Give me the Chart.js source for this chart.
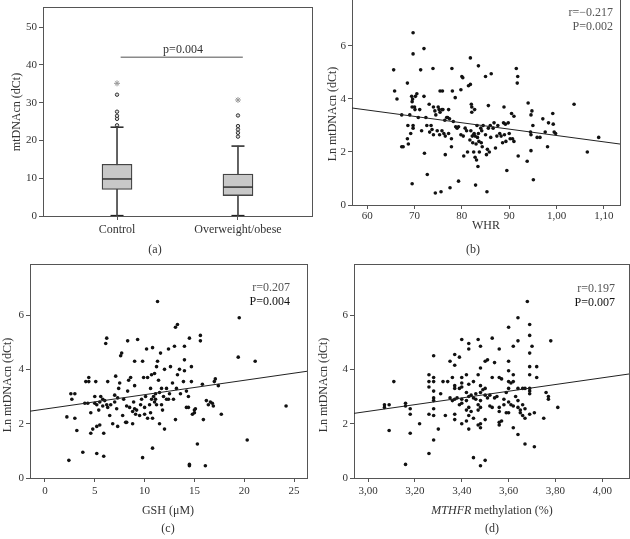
<!DOCTYPE html>
<html>
<head>
<meta charset="utf-8">
<script src="https://cdn.jsdelivr.net/npm/chart.js@4.4.0/dist/chart.umd.min.js"></script>
<style>
    body { margin: 0; background: #fff; width: 630px; height: 539px; overflow: hidden; position: relative; font-family: "Liberation Serif", serif; }
    canvas { position: absolute; }
    .cap { position: absolute; font-size: 12px; color: #333; transform: translate(-50%, -50%); white-space: nowrap; }
</style>
</head>
<body>
<canvas id="chartA" width="315" height="265" style="left:0;top:0"></canvas>
<canvas id="chartB" width="315" height="267" style="left:315px;top:-2px"></canvas>
<canvas id="chartC" width="315" height="277" style="left:0;top:262px"></canvas>
<canvas id="chartD" width="315" height="277" style="left:315px;top:262px"></canvas>
<div class="cap" style="left:155px;top:249px">(a)</div>
<div class="cap" style="left:473px;top:249px">(b)</div>
<div class="cap" style="left:168px;top:528px">(c)</div>
<div class="cap" style="left:492px;top:528px">(d)</div>

<script>
// (a) box plot
const groups = ['Control', 'Overweight/obese'];
const boxQ1 = [7.05, 5.4];
const boxMedian = [9.8, 7.65];
const boxQ3 = [13.7, 11.1];
const whiskerLow = [0.1, 0.1];
const whiskerHigh = [23.5, 18.5];
const outliers = [[24.0, 25.7, 26.5, 27.6, 32.1], [21.0, 22.0, 22.9, 23.8, 26.6]];
const extremes = [[35.1], [30.7]];
const bracketX = [0.03, 1.04];
const bracketY = 42;
const boxTicksY = [0, 10, 20, 30, 40, 50];

// (b) WHR vs Ln mtDNAcn
const whrPoints = [
    [65.6,5.1],[65.8,4.3],[66.3,4.0],[67.3,3.4],[67.3,2.2],[67.6,2.2],[68.5,4.6],[68.6,3.0],[68.5,2.5],[68.7,2.3],
    [69.0,3.4],[69.2,2.7],[69.4,4.1],[69.5,3.7],[69.5,3.9],[69.6,4.0],[69.7,2.9],[69.7,3.0],[69.5,0.8],[69.7,6.5],
    [69.7,5.7],[70.1,3.6],[70.0,3.7],[70.2,4.1],[70.5,4.2],[70.8,3.3],[71.1,3.6],[71.3,5.1],[71.5,2.8],[72.0,5.9],
    [72.0,4.1],[72.1,1.95],[72.4,3.3],[72.6,3.0],[72.7,1.15],[73.2,2.75],[73.1,3.8],[73.5,3.0],[73.7,2.85],[74.0,3.7],
    [73.9,5.15],[74.0,2.65],[74.3,3.55],[74.5,3.4],[74.4,0.45],[74.8,2.8],[75.0,3.7],[75.3,2.65],[75.2,3.6],[75.4,4.3],
    [75.4,3.5],[75.8,2.8],[75.9,4.3],[75.8,3.6],[75.6,0.5],[76.0,3.6],[76.4,3.2],[76.2,2.7],[76.5,2.6],[76.5,1.9],
    [76.8,3.3],[77.0,3.3],[77.2,3.6],[77.4,3.25],[77.2,2.7],[77.5,0.65],[77.8,2.5],[77.8,2.2],[77.9,5.15],[78.0,4.3],
    [78.2,3.15],[78.6,4.05],[78.7,2.95],[79.0,2.9],[79.3,0.9],[79.3,2.95],[79.8,4.35],[79.8,2.65],[80.0,4.85],[80.2,4.8],
    [80.3,2.6],[80.4,1.85],[80.7,2.9],[81.0,2.8],[81.2,2.0],[81.4,4.5],[81.7,2.45],[81.8,4.55],[81.8,5.55],[81.9,2.8],
    [82.0,3.8],[82.1,3.5],[82.1,3.7],[82.2,2.6],[82.3,2.35],[82.5,2.65],[82.5,2.0],[82.6,2.7],[82.7,3.6],[82.8,1.8],
    [82.8,2.6],[82.9,0.75],[83.0,2.3],[83.1,1.7],[83.2,3.0],[83.3,2.55],[83.4,1.45],[83.5,2.7],[83.5,5.25],[83.6,2.4],
    [83.7,2.0],[84.0,2.9],[84.1,2.35],[84.2,2.8],[84.3,2.2],[84.5,3.0],[85.0,4.85],[85.0,2.65],[85.2,1.9],[85.4,2.1],
    [85.3,0.5],[85.6,2.9],[85.6,3.75],[85.8,2.0],[86.0,3.0],[86.1,2.55],[86.2,4.95],[86.6,2.9],[86.8,3.1],[87.1,2.15],
    [87.4,2.6],[87.6,3.0],[88.0,2.7],[88.3,2.6],[88.6,2.35],[88.8,3.1],[88.9,3.7],[89.0,2.65],[89.2,3.05],[89.3,2.4],
    [89.5,1.3],[89.8,3.1],[90.0,2.7],[90.2,2.5],[90.5,3.45],[90.7,2.5],[91.0,3.35],[91.0,2.4],[91.5,5.15],[91.7,4.6],
    [91.8,4.85],[91.9,1.85],[93.8,1.65],[94.0,3.85],[94.6,3.4],[94.5,2.75],[94.6,2.65],[94.6,2.05],[94.8,3.55],[95.0,3.0],
    [95.1,0.95],[95.9,2.55],[96.5,2.55],[97.1,3.25],[97.6,2.75],[98.1,2.2],[98.3,3.1],[99.2,3.45],[99.3,3.05],[99.5,2.75],
    [99.8,2.7],[103.7,3.8],[106.5,2.0],[108.9,2.55]
];
const whrFitX = [56.8, 113.4];
const whrFitY = [3.66, 2.30];
const whrTicks = [60, 70, 80, 90, 100, 110];
const whrTickLabels = ['60', '70', '80', '90', '1,00', '1,10'];

// (c) GSH vs Ln mtDNAcn
const gshPoints = [
    [2.2,2.25],[2.4,0.65],[2.6,3.1],[2.7,2.9],[3.0,3.1],[3.0,2.2],[3.2,1.75],[3.8,0.95],[4.0,2.75],[4.1,3.55],
    [4.3,2.75],[4.4,3.55],[4.4,3.7],[4.6,1.65],[4.6,2.4],[4.8,1.8],[5.0,2.75],[5.0,3.0],[5.1,3.55],[5.2,1.9],
    [5.2,0.9],[5.4,2.5],[5.5,2.8],[5.5,1.95],[5.6,3.0],[5.8,2.65],[5.8,2.9],[5.9,1.65],[5.9,0.8],[6.1,4.95],
    [6.2,5.15],[6.2,2.7],[6.3,2.6],[6.3,3.55],[6.5,2.3],[6.6,2.7],[6.8,2.0],[7.0,3.05],[7.0,2.8],[7.1,3.75],
    [7.2,2.55],[7.3,1.9],[7.3,2.95],[7.4,3.3],[7.5,3.5],[7.6,4.5],[7.7,4.6],[7.8,2.3],[7.9,2.9],[8.1,2.05],
    [8.2,2.05],[8.2,2.65],[8.3,3.2],[8.3,5.05],[8.4,3.6],[8.5,2.6],[8.6,3.7],[8.8,2.45],[8.8,2.0],[8.9,2.8],
    [9.0,4.3],[9.0,3.4],[9.1,2.35],[9.2,2.5],[9.3,5.1],[9.5,2.3],[9.6,2.7],[9.7,2.9],[9.8,4.3],[9.8,0.75],
    [9.9,3.7],[10.0,2.35],[10.0,2.6],[10.1,3.0],[10.2,4.75],[10.3,2.2],[10.3,3.7],[10.5,2.7],[10.6,3.3],[10.7,3.8],
    [10.7,2.9],[10.8,4.8],[10.8,2.2],[10.8,1.1],[10.9,3.0],[11.0,2.8],[11.0,3.85],[11.1,2.9],[11.1,3.1],[11.2,4.1],
    [11.2,2.7],[11.3,6.5],[11.3,4.3],[11.4,3.6],[11.5,2.0],[11.6,4.6],[11.7,2.7],[11.7,3.3],[11.8,2.5],[11.9,3.0],
    [12.0,1.8],[12.0,4.0],[12.2,3.3],[12.4,4.75],[12.4,2.9],[12.5,3.1],[12.6,4.1],[12.8,3.5],[12.9,2.9],[13.0,4.85],
    [13.1,5.55],[13.1,2.15],[13.2,3.3],[13.3,5.65],[13.3,3.8],[13.5,4.0],[13.6,3.1],[13.9,3.55],[14.0,4.35],[14.0,3.95],
    [14.0,4.85],[14.2,2.6],[14.2,3.2],[14.4,3.0],[14.4,2.6],[14.5,0.45],[14.5,0.5],[14.5,5.15],[14.7,4.1],[14.7,3.55],
    [14.8,2.35],[15.0,2.5],[15.0,2.4],[15.1,2.55],[15.3,1.25],[15.6,5.25],[15.6,5.05],[15.8,3.45],[15.9,2.15],[16.1,0.45],
    [16.2,2.85],[16.4,2.7],[16.6,2.8],[16.8,2.75],[16.9,2.65],[17.0,3.55],[17.1,3.65],[17.4,3.4],[17.7,2.35],[19.4,4.45],
    [19.5,5.9],[20.3,1.4],[21.1,4.3],[24.2,2.65],[9.0,2.55],[10.6,2.4],[12.2,2.9],[11.5,3.15],[6.0,2.85],[5.2,2.7]
];
const gshFitX = [-1.5, 26.3];
const gshFitY = [2.46, 3.93];
const gshTicks = [0, 5, 10, 15, 20, 25];
const gshTickLabels = ['0', '5', '10', '15', '20', '25'];

// (d) MTHFR methylation vs Ln mtDNAcn
const mthfrPoints = [
    [3.07,2.7],[3.07,2.6],[3.09,1.75],[3.09,2.7],[3.11,3.55],[3.16,0.5],[3.16,2.75],[3.16,2.65],[3.18,2.55],[3.18,2.35],
    [3.18,1.65],[3.22,2.0],[3.26,3.8],[3.26,3.55],[3.26,3.35],[3.26,2.35],[3.26,0.9],[3.28,4.5],[3.28,3.7],[3.28,3.55],
    [3.28,3.2],[3.28,2.95],[3.28,2.85],[3.28,2.55],[3.28,2.3],[3.28,1.4],[3.30,1.8],[3.31,3.1],[3.32,3.55],[3.33,2.3],
    [3.34,3.55],[3.35,2.95],[3.35,4.3],[3.36,3.7],[3.36,2.85],[3.37,4.55],[3.37,4.15],[3.37,3.4],[3.37,3.3],[3.37,2.9],
    [3.37,2.35],[3.37,2.15],[3.38,2.95],[3.39,4.45],[3.39,3.3],[3.39,2.7],[3.40,5.1],[3.40,3.7],[3.40,3.5],[3.40,3.35],
    [3.40,2.9],[3.40,2.75],[3.40,2.0],[3.42,3.8],[3.42,3.15],[3.42,2.85],[3.42,2.5],[3.42,2.1],[3.43,4.95],[3.43,4.75],
    [3.43,3.45],[3.43,3.0],[3.43,2.6],[3.43,2.3],[3.43,1.8],[3.44,2.45],[3.44,3.05],[3.45,3.55],[3.45,2.95],[3.45,2.2],
    [3.45,0.75],[3.46,3.1],[3.46,2.9],[3.47,5.1],[3.47,3.8],[3.47,2.7],[3.47,2.5],[3.47,1.95],[3.48,4.85],[3.48,4.05],
    [3.48,3.4],[3.48,3.15],[3.48,2.85],[3.48,2.6],[3.48,2.0],[3.48,1.85],[3.48,0.45],[3.49,3.25],[3.50,4.3],[3.50,3.3],
    [3.50,3.05],[3.50,2.15],[3.50,0.65],[3.51,2.95],[3.51,4.35],[3.52,2.65],[3.52,3.05],[3.53,5.15],[3.53,3.7],[3.53,2.6],
    [3.54,2.95],[3.54,4.25],[3.55,3.0],[3.56,4.75],[3.56,3.7],[3.56,2.6],[3.56,2.45],[3.56,2.05],[3.56,1.95],[3.57,3.65],
    [3.57,2.1],[3.58,2.9],[3.58,2.7],[3.59,3.15],[3.59,2.4],[3.60,5.55],[3.60,4.3],[3.60,3.95],[3.60,3.55],[3.60,3.3],
    [3.60,2.8],[3.60,2.4],[3.61,2.7],[3.61,3.5],[3.62,4.85],[3.62,3.8],[3.62,3.55],[3.62,2.65],[3.62,1.85],[3.63,3.0],
    [3.64,5.9],[3.64,5.05],[3.64,3.3],[3.64,2.6],[3.64,2.85],[3.64,1.6],[3.65,2.5],[3.65,2.4],[3.66,3.3],[3.66,2.7],
    [3.66,2.3],[3.67,3.3],[3.67,2.55],[3.67,2.2],[3.67,1.25],[3.68,6.5],[3.69,5.65],[3.69,5.25],[3.69,4.6],[3.69,4.1],
    [3.69,3.8],[3.69,3.3],[3.69,3.2],[3.69,3.1],[3.69,2.35],[3.70,4.85],[3.71,2.4],[3.71,1.15],[3.72,4.1],[3.72,3.7],
    [3.75,2.2],[3.76,3.15],[3.77,3.0],[3.77,2.9],[3.78,5.05],[3.81,2.6]
];
const mthfrFitX = [2.94, 4.114];
const mthfrFitY = [2.38, 3.83];
const mthfrTicks = [3.0, 3.2, 3.4, 3.6, 3.8, 4.0];
const mthfrTickLabels = ['3,00', '3,20', '3,40', '3,60', '3,80', '4,00'];

const lnTicks = [0, 2, 4, 6];

const SERIF = '"Liberation Serif", "DejaVu Serif", serif';
const AXIS_COLOR = '#555';

// frame around the plotting area
const framePlugin = {
    id: 'frame',
    beforeDatasetsDraw(chart) {
        const { ctx, chartArea: a } = chart;
        ctx.save();
        ctx.strokeStyle = AXIS_COLOR;
        ctx.lineWidth = 1;
        ctx.strokeRect(Math.round(a.left) + 0.5, Math.round(a.top) + 0.5,
            Math.round(a.right - a.left), Math.round(a.bottom - a.top));
        ctx.restore();
    }
};

// free text: axis titles, r / P values
const notesPlugin = {
    id: 'notes',
    afterDraw(chart, args, opts) {
        const ctx = chart.ctx;
        (opts.items || []).forEach(it => {
            const parts = it.parts || [{ text: it.text }];
            const fontOf = p => (p.italic ? 'italic ' : '') + (it.bold ? 'bold ' : '') + (it.size || 12) + 'px ' + SERIF;
            ctx.save();
            ctx.translate(it.x - opts.originX, it.y - opts.originY);
            if (it.rotate) ctx.rotate(it.rotate);
            ctx.textBaseline = 'middle';
            ctx.textAlign = 'left';
            ctx.fillStyle = it.color || '#333';
            let total = 0;
            parts.forEach(p => { ctx.font = fontOf(p); total += ctx.measureText(p.text).width; });
            let x = it.align === 'right' ? -total : (it.align === 'left' ? 0 : -total / 2);
            parts.forEach(p => {
                ctx.font = fontOf(p);
                ctx.fillText(p.text, x, 0);
                x += ctx.measureText(p.text).width;
            });
            ctx.restore();
        });
    }
};

function axis(min, max, ticks, size, labels, fontSize, pad) {
    return {
        type: 'linear',
        min: min,
        max: max,
        offset: false,
        afterBuildTicks: s => { s.ticks = ticks.map(v => ({ value: v })); },
        afterFit: s => {
            if (s.isHorizontal()) { s.height = size; s.paddingLeft = 0; s.paddingRight = 0; }
            else { s.width = size; s.paddingTop = 0; s.paddingBottom = 0; }
        },
        grid: { drawOnChartArea: false, offset: false, tickLength: 4, color: AXIS_COLOR, lineWidth: 1 },
        border: { color: AXIS_COLOR, width: 1 },
        ticks: {
            font: { family: SERIF, size: fontSize || 11 },
            color: '#333',
            padding: pad === undefined ? 2 : pad,
            maxRotation: 0,
            autoSkip: false,
            callback: (v, i) => labels ? labels[i] : v
        }
    };
}

function baseOptions(padding, scales, notes, origin) {
    return {
        responsive: false,
        animation: false,
        devicePixelRatio: 1,
        layout: { padding: padding, autoPadding: false },
        scales: scales,
        plugins: {
            legend: { display: false },
            tooltip: { enabled: false },
            notes: { items: notes, originX: origin[0], originY: origin[1] }
        }
    };
}

// ---- (a) box plot ----
const groupIdx = groups.map((g, i) => i);
new Chart(document.getElementById('chartA'), {
    type: 'bar',
    data: {
        datasets: [
            {
                type: 'line',
                data: bracketX.map(x => ({ x: x, y: bracketY })),
                borderColor: '#8a8a8a', borderWidth: 1.5, pointRadius: 0, order: 0
            },
            {
                type: 'scatter',
                data: groupIdx.map(i => ({ x: i, y: boxMedian[i] })),
                pointStyle: 'line', pointRadius: 15, borderColor: '#333', borderWidth: 1.5, order: 1
            },
            {
                data: groupIdx.map(i => ({ x: i, y: [boxQ1[i], boxQ3[i]] })),
                backgroundColor: '#c8c8c8', borderColor: '#444', borderWidth: 1.3,
                borderSkipped: false, barThickness: 30, grouped: false, order: 2
            },
            {
                data: groupIdx.map(i => ({ x: i, y: [whiskerLow[i], whiskerHigh[i]] })),
                backgroundColor: '#444', borderWidth: 0, barThickness: 1, grouped: false, order: 3
            },
            {
                type: 'scatter',
                data: groupIdx.flatMap(i => [{ x: i, y: whiskerLow[i] }, { x: i, y: whiskerHigh[i] }]),
                pointStyle: 'line', pointRadius: 6.5, borderColor: '#222', borderWidth: 1.5, order: 4
            },
            {
                type: 'scatter',
                data: groupIdx.flatMap(i => outliers[i].map(v => ({ x: i, y: v }))),
                pointStyle: 'circle', pointRadius: 1.7, backgroundColor: '#ddd', borderColor: '#333', borderWidth: 1, order: 5
            },
            {
                type: 'scatter',
                data: groupIdx.flatMap(i => extremes[i].map(v => ({ x: i, y: v }))),
                pointStyle: 'star', pointRadius: 3, borderColor: '#999', borderWidth: 1, order: 6
            }
        ]
    },
    options: baseOptions(
        { left: 0, top: 7, right: 3, bottom: 0 },
        {
            x: axis(-0.612, 1.612, groupIdx, 49, groups, 12, 3),
            y: axis(0, 55.3, boxTicksY, 43, null, 11, 2)
        },
        [
            { text: 'mtDNAcn (dCt)', x: 17, y: 112, rotate: -Math.PI / 2 },
            { text: 'p=0.004', x: 183, y: 50 }
        ],
        [0, 0]
    ),
    plugins: [framePlugin, notesPlugin]
});

// ---- scatter panels ----
function scatterPanel(id, cfg) {
    return new Chart(document.getElementById(id), {
        type: 'scatter',
        data: {
            datasets: [
                {
                    data: cfg.points.map(p => ({ x: p[0], y: p[1] })),
                    pointRadius: 1.8, backgroundColor: '#111', borderWidth: 0, order: 2
                },
                {
                    type: 'line',
                    data: cfg.fitX.map((x, i) => ({ x: x, y: cfg.fitY[i] })),
                    borderColor: '#222', borderWidth: 1, pointRadius: 0, order: 1
                }
            ]
        },
        options: baseOptions(cfg.padding, { x: cfg.x, y: cfg.y }, cfg.notes, cfg.origin),
        plugins: [framePlugin, notesPlugin]
    });
}

scatterPanel('chartB', {
    points: whrPoints, fitX: whrFitX, fitY: whrFitY,
    origin: [315, -2],
    padding: { left: 0, top: 0, right: 10, bottom: 0 },
    x: axis(56.8, 113.4, whrTicks, 60, whrTickLabels, 11, 1),
    y: axis(0, 7.81, lnTicks, 37, null, 11, 2),
    notes: [
        { text: 'Ln mtDNAcn (dCt)', x: 333, y: 114, rotate: -Math.PI / 2 },
        { text: 'WHR', x: 486, y: 226 },
        { text: 'r=\u22120.217', x: 613, y: 13, align: 'right', color: '#555' },
        { text: 'P=0.002', x: 613, y: 27, align: 'right', color: '#555' }
    ]
});

scatterPanel('chartC', {
    points: gshPoints, fitX: gshFitX, fitY: gshFitY,
    origin: [0, 262],
    padding: { left: 0, top: 2, right: 8, bottom: 0 },
    x: axis(-1.5, 26.3, gshTicks, 61, gshTickLabels, 11, 3),
    y: axis(0, 7.88, lnTicks, 30, null, 11, 2),
    notes: [
        { text: 'Ln mtDNAcn (dCt)', x: 8, y: 385, rotate: -Math.PI / 2 },
        { text: 'GSH (\u03bcM)', x: 168, y: 511 },
        { text: 'r=0.207', x: 290, y: 288, align: 'right', color: '#555' },
        { text: 'P=0.004', x: 290, y: 302, align: 'right', color: '#111' }
    ]
});

scatterPanel('chartD', {
    points: mthfrPoints, fitX: mthfrFitX, fitY: mthfrFitY,
    origin: [315, 262],
    padding: { left: 0, top: 2, right: 1, bottom: 0 },
    x: axis(2.94, 4.114, mthfrTicks, 61, mthfrTickLabels, 11, 3),
    y: axis(0, 7.88, lnTicks, 39, null, 11, 2),
    notes: [
        { text: 'Ln mtDNAcn (dCt)', x: 324, y: 385, rotate: -Math.PI / 2 },
        { parts: [{ text: 'MTHFR', italic: true }, { text: ' methylation (%)' }], x: 492, y: 511 },
        { text: 'r=0.197', x: 615, y: 289, align: 'right', color: '#555' },
        { text: 'P=0.007', x: 615, y: 303, align: 'right', color: '#111' }
    ]
});
</script>
</body>
</html>
